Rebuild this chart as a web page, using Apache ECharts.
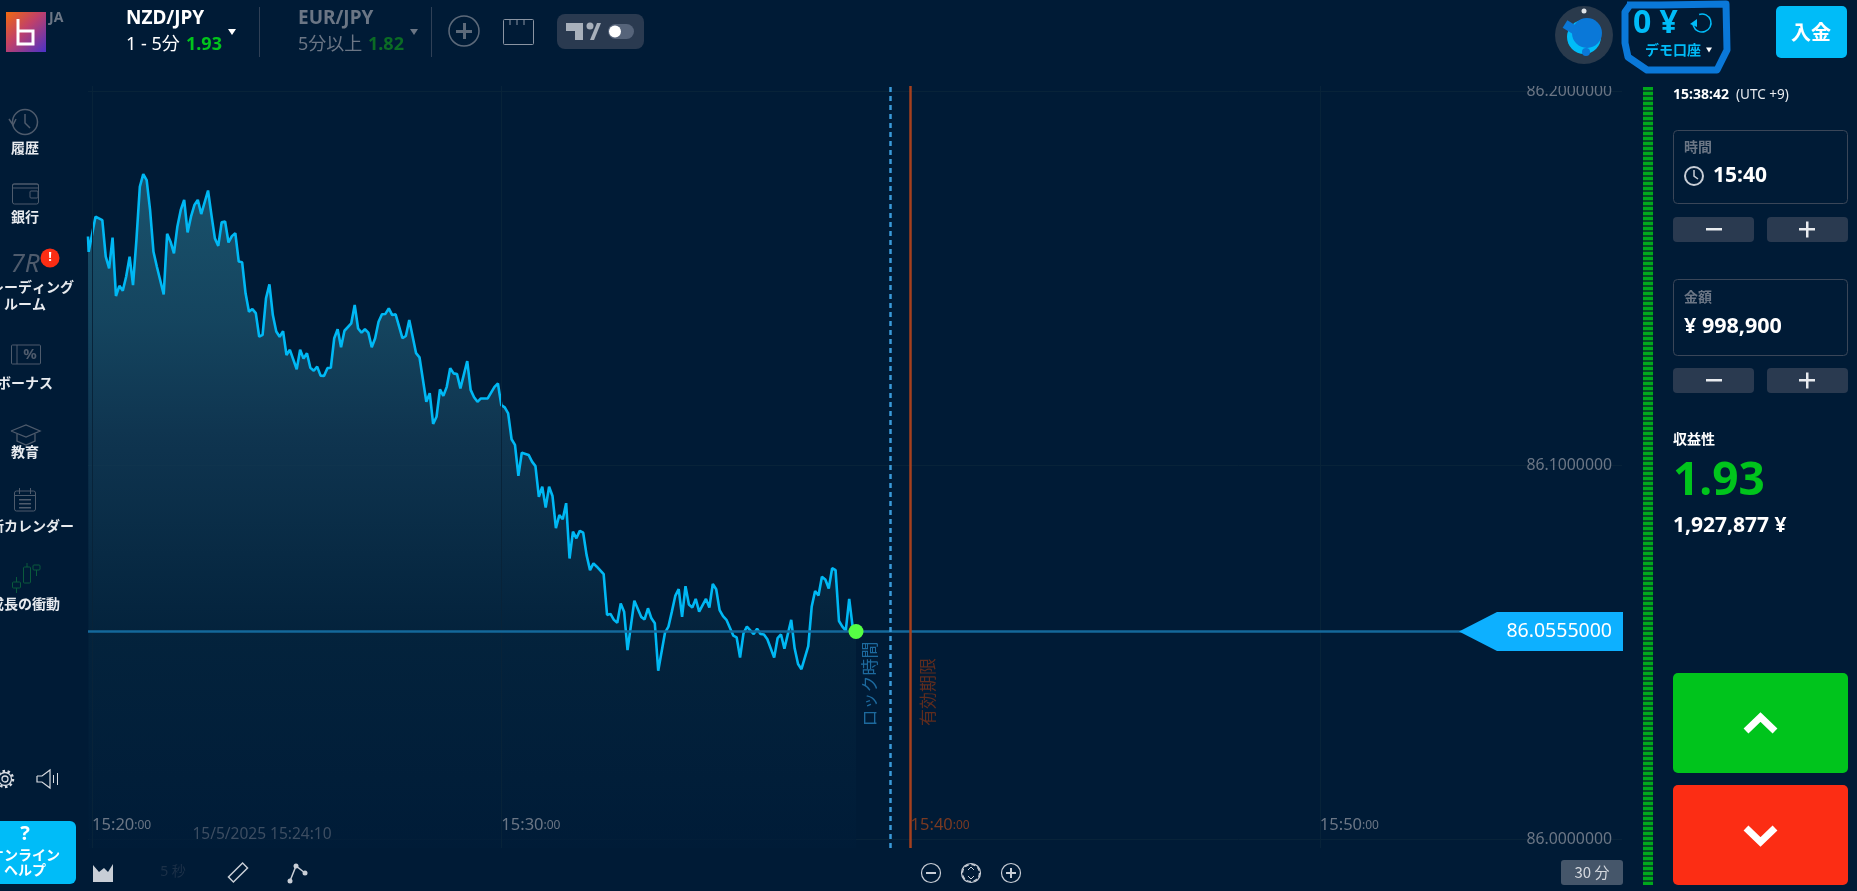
<!DOCTYPE html>
<html>
<head>
<meta charset="utf-8">
<title>NZD/JPY</title>
<style>
html, body { margin: 0; padding: 0; background: #001b36; overflow: hidden; }
#chart { width: 1857px; height: 891px; }
</style>
<script src="https://cdn.jsdelivr.net/npm/echarts@6/dist/echarts.min.js"></script>
</head>
<body>
<div id="chart"></div>
<script>
// seconds after 15:20:00
var priceTimes = [
    -6, -5, 5, 15, 20, 25, 30, 35, 40, 45, 50, 55, 60, 65, 70, 75, 80, 85, 90, 95,
    105, 110, 115, 120, 125, 130, 135, 140, 145, 150, 155, 160, 170, 175, 180, 185, 190, 195, 200, 205,
    210, 215, 220, 225, 230, 235, 240, 245, 250, 255, 260, 265, 270, 275, 280, 285, 290, 300, 305, 310,
    315, 320, 325, 330, 335, 340, 345, 350, 355, 360, 365, 370, 380, 385, 390, 395, 400, 405, 410, 415,
    420, 425, 430, 435, 440, 445, 455, 460, 465, 475, 480, 490, 495, 500, 505, 510, 515, 520, 525, 530,
    535, 540, 550, 555, 560, 565, 570, 580, 590, 595, 600, 605, 610, 615, 620, 625, 630, 640, 645, 650,
    655, 660, 665, 670, 675, 680, 685, 690, 695, 700, 705, 710, 715, 720, 725, 730, 735, 740, 750, 755,
    760, 765, 770, 775, 780, 785, 795, 805, 810, 815, 820, 825, 830, 840, 845, 850, 855, 860, 865, 870,
    875, 880, 885, 890, 900, 905, 910, 915, 920, 925, 930, 940, 945, 950, 955, 960, 970, 975, 980, 985,
    990, 1000, 1005, 1010, 1015, 1025, 1030, 1035, 1040, 1050, 1055, 1060, 1065, 1070, 1075, 1080, 1085, 1090, 1095, 1100,
    1105, 1110, 1115, 1120
];
var prices = [
    86.1611, 86.1570, 86.1664, 86.1655, 86.1557, 86.1526, 86.1608, 86.1452, 86.1479, 86.1466, 86.1504, 86.1557, 86.1481, 86.1602, 86.1744, 86.1778, 86.1762, 86.1682, 86.1570, 86.1530,
    86.1456, 86.1618, 86.1597, 86.1566, 86.1637, 86.1682, 86.1709, 86.1622, 86.1664, 86.1695, 86.1709, 86.1671, 86.1734, 86.1668, 86.1606, 86.1586, 86.1649, 86.1651, 86.1595, 86.1612,
    86.1620, 86.1544, 86.1542, 86.1459, 86.1410, 86.1417, 86.1406, 86.1343, 86.1348, 86.1446, 86.1483, 86.1401, 86.1357, 86.1343, 86.1358, 86.1294, 86.1308, 86.1256, 86.1308, 86.1285,
    86.1299, 86.1260, 86.1252, 86.1263, 86.1239, 86.1238, 86.1259, 86.1260, 86.1339, 86.1363, 86.1315, 86.1359, 86.1379, 86.1428, 86.1365, 86.1354, 86.1363, 86.1354, 86.1315, 86.1339,
    86.1383, 86.1403, 86.1404, 86.1419, 86.1401, 86.1403, 86.1339, 86.1345, 86.1388, 86.1299, 86.1288, 86.1169, 86.1192, 86.1110, 86.1129, 86.1202, 86.1185, 86.1209, 86.1259, 86.1245,
    86.1243, 86.1205, 86.1278, 86.1201, 86.1181, 86.1169, 86.1178, 86.1178, 86.1209, 86.1218, 86.1160, 86.1154, 86.1138, 86.1069, 86.1054, 86.0971, 86.1033, 86.1027, 86.1009, 86.0997,
    86.0915, 86.0942, 86.0886, 86.0942, 86.0917, 86.0831, 86.0866, 86.0855, 86.0898, 86.0750, 86.0822, 86.0804, 86.0824, 86.0819, 86.0759, 86.0719, 86.0737, 86.0728, 86.0708, 86.0599,
    86.0602, 86.0586, 86.0578, 86.0630, 86.0608, 86.0505, 86.0637, 86.0594, 86.0587, 86.0617, 86.0590, 86.0577, 86.0450, 86.0552, 86.0568, 86.0608, 86.0650, 86.0668, 86.0594, 86.0676,
    86.0627, 86.0619, 86.0642, 86.0608, 86.0642, 86.0619, 86.0682, 86.0668, 86.0612, 86.0596, 86.0586, 86.0544, 86.0539, 86.0485, 86.0550, 86.0568, 86.0548, 86.0562, 86.0548, 86.0547,
    86.0534, 86.0485, 86.0537, 86.0547, 86.0509, 86.0586, 86.0510, 86.0468, 86.0454, 86.0516, 86.0621, 86.0663, 86.0651, 86.0701, 86.0694, 86.0670, 86.0724, 86.0719, 86.0583, 86.0568,
    86.0557, 86.0642, 86.0568, 86.0555
];
var timeTicks = [0, 600, 1200, 1800];
var timeLabels = ['15:20', '15:30', '15:40', '15:50'];
var priceTicks = [86, 86.1, 86.2];
var currentPrice = 86.0555;
var currentTime = 1120;
var lockTime = 1170;
var expiryTime = 1200;

var BG = '#001b36';
var FONT = '"Noto Sans", "Noto Sans CJK JP", sans-serif';
var JP = '"Noto Sans CJK JP", sans-serif';
var BLUE = '#00bcf8';
var GREEN = '#00c41c';
var GREY = '#6b7685';
var PANEL = '#2a3a50';

var chartDom = document.getElementById('chart');
var myChart = echarts.init(chartDom);

// ---- page chrome helpers
var els = [];
function rect(x, y, w, h, fill, r, stroke) {
    els.push({
        type: 'rect', z: 10, silent: true,
        shape: { x: x, y: y, width: w, height: h, r: r || 0 },
        style: { fill: fill, stroke: stroke || null, lineWidth: 1 }
    });
}
function text(x, y, str, font, color, align) {
    els.push({
        type: 'text', z: 11, silent: true,
        style: { x: x, y: y, text: str, font: font, fill: color, textAlign: align || 'left', textVerticalAlign: 'middle' }
    });
}
function vtext(x, y, str, font, color) {
    els.push({
        type: 'text', z: 4, silent: true, x: x, y: y, rotation: Math.PI / 2,
        style: { x: 0, y: 0, text: str, font: font, fill: color, textAlign: 'center', textVerticalAlign: 'middle' }
    });
}
function circle(x, y, r, fill, stroke, lw, dash) {
    els.push({
        type: 'circle', z: 11, silent: true,
        shape: { cx: x, cy: y, r: r },
        style: { fill: fill || 'none', stroke: stroke || null, lineWidth: lw || 1, lineDash: dash || null }
    });
}
function poly(points, stroke, lw, join) {
    els.push({
        type: 'polyline', z: 11, silent: true,
        shape: { points: points },
        style: { fill: 'none', stroke: stroke, lineWidth: lw || 1, lineJoin: join || 'miter' }
    });
}
function tri(x, y, w, h, color) {
    els.push({
        type: 'polygon', z: 11, silent: true,
        shape: { points: [[x - w / 2, y - h / 2], [x + w / 2, y - h / 2], [x, y + h / 2]] },
        style: { fill: color }
    });
}

// header strip hides the top of the 86.2 label
rect(0, 0, 1857, 86, BG);

// logo
els.push({
    type: 'rect', z: 11, silent: true,
    shape: { x: 6, y: 12, width: 40, height: 40 },
    style: {
        fill: new echarts.graphic.LinearGradient(0, 0, 1, 1, [
            { offset: 0, color: '#f06a10' }, { offset: 0.45, color: '#c0406a' }, { offset: 1, color: '#4a32c8' }
        ])
    }
});
poly([[18, 19], [18, 44], [33, 44], [33, 31], [18, 31]], '#ffffff', 3);
text(49, 18, 'JA', 'bold 14px ' + FONT, GREY);

// instruments
text(126, 19, 'NZD/JPY', 'bold 19px ' + FONT, '#ffffff');
text(126, 45, '1 - 5分', '18px ' + FONT, '#ffffff');
text(186, 45, '1.93', 'bold 18px ' + FONT, GREEN);
tri(232, 32, 8, 6, '#ffffff');
rect(259, 7, 1, 50, '#2f4056');
text(298, 19, 'EUR/JPY', 'bold 19px ' + FONT, GREY);
text(298, 45, '5分以上', '18px ' + FONT, GREY);
text(368, 45, '1.82', 'bold 18px ' + FONT, '#0b6b25');
tri(414, 32, 8, 6, GREY);
rect(431, 7, 1, 50, '#2f4056');
circle(464, 31, 15, null, '#5d6a7a', 1.5);
rect(456, 30, 16, 3, '#5d6a7a');
rect(463, 23, 3, 16, '#5d6a7a');
rect(503.5, 19.5, 30, 25, 'none', 1, '#8a94a2');
poly([[510, 20], [510, 25]], '#8a94a2', 1);
poly([[517, 20], [517, 25]], '#8a94a2', 1);
poly([[524, 20], [524, 25]], '#8a94a2', 1);
rect(557, 14, 87, 35, PANEL, 8);
els.push({
    type: 'polygon', z: 11, silent: true,
    shape: { points: [[566, 23], [583, 23], [583, 40], [575, 40], [575, 31], [566, 31]] },
    style: { fill: '#a8b0bb' }
});
circle(590, 26, 3.5, '#a8b0bb');
els.push({
    type: 'polygon', z: 11, silent: true,
    shape: { points: [[590, 40], [597, 23], [601, 23], [594, 40]] },
    style: { fill: '#a8b0bb' }
});
rect(608, 24, 26, 15, '#56647a', 7.5);
circle(615, 31.5, 6, '#ffffff');

// account
circle(1584, 35, 29, '#2a3a4c');
circle(1584, 11, 2.5, '#e0e4e8');
circle(1584, 37, 17, BLUE);
circle(1587, 33, 15, '#0a78d8');
poly([[1565, 24], [1578, 32]], '#0a78d8', 9, 'round');
circle(1586, 52, 4, '#0a78d8');
poly([[1627, 5], [1660, 5], [1726, 4], [1727, 50], [1717, 70], [1647, 70], [1628, 57], [1625, 43], [1625, 12], [1630, 5]], '#0a78d8', 7, 'round');
text(1633, 24, '0 ¥', 'bold 32px ' + FONT, BLUE);
els.push({
    type: 'arc', z: 11, silent: true,
    shape: { cx: 1702, cy: 23, r: 9, startAngle: -1.9, endAngle: 3.1 },
    style: { fill: 'none', stroke: BLUE, lineWidth: 1.5 }
});
els.push({
    type: 'polygon', z: 11, silent: true,
    shape: { points: [[1690, 24], [1697, 19], [1697, 27]] },
    style: { fill: BLUE }
});
text(1673, 50, 'デモ口座', 'bold 14px ' + JP, BLUE, 'center');
tri(1709, 50, 6, 5, '#ffffff');
rect(1776, 6, 71, 52, BLUE, 5);
text(1811, 32, '入金', 'bold 20px ' + JP, '#ffffff', 'center');

// side menu
var menuLabels = ['履歴', '銀行', 'トレーディング', 'ルーム', 'ボーナス', '教育', '最新カレンダー', '成長の衝動'];
var menuY = [148, 217, 287, 304, 383, 452, 526, 604];
for (var m = 0; m < menuLabels.length; m++) {
    text(25, menuY[m], menuLabels[m], 'bold 14px ' + JP, '#e8ebef', 'center');
}
var ICON = '#4e5b6c';
circle(25, 122, 12.5, null, ICON, 1.5);
poly([[25, 114], [25, 123], [30, 128]], ICON, 1.5);
poly([[9, 119], [13, 125], [16, 119]], ICON, 1.5);
rect(12.5, 184, 26, 20, 'none', 2, ICON);
rect(12.5, 184, 26, 4, 'none', 1, ICON);
rect(30, 191, 8, 7, 'none', 1, ICON);
text(25, 265, '7R', 'italic 26px ' + FONT, ICON, 'center');
circle(50, 258, 9.5, '#fc2d14');
text(50, 257, '!', 'bold 13px ' + FONT, '#ffffff', 'center');
rect(11.5, 345, 29, 19, 'none', 1, ICON);
poly([[17, 345], [17, 364]], ICON, 1);
text(30, 355, '%', 'bold 15px ' + FONT, ICON, 'center');
poly([[11, 431], [26, 425], [40, 431], [26, 437], [11, 431]], ICON, 1.3);
poly([[17, 434], [17, 441], [26, 445], [35, 441], [35, 434]], ICON, 1.3);
rect(14.5, 491, 21, 20, 'none', 2, ICON);
rect(14.5, 495, 21, 1, ICON);
rect(19, 488, 1, 6, ICON);
rect(30, 488, 1, 6, ICON);
for (var cy = 499; cy < 509; cy += 4) {
    rect(19, cy, 12, 1.5, ICON);
}
var CANDLE = '#0a5a3c';
rect(12.5, 582, 8, 6, 'none', 1, CANDLE);
rect(23.5, 567, 7, 16, 'none', 1, CANDLE);
rect(33, 565, 7, 5, 'none', 1, CANDLE);
rect(16, 577, 1, 5, CANDLE);
rect(16, 588, 1, 5, CANDLE);
rect(26.5, 563, 1, 4, CANDLE);
rect(36, 570, 1, 6, CANDLE);

// settings + sound
circle(5, 779, 3, null, '#d8dce2', 1.3);
circle(5, 779, 6.5, null, '#d8dce2', 1.3);
circle(5, 779, 8, null, '#d8dce2', 2.5, [2.5, 2.5]);
poly([[37, 776], [42, 776], [50, 770], [50, 788], [42, 782], [37, 782], [37, 776]], '#d8dce2', 1.2);
rect(53, 775, 1, 8, '#d8dce2');
rect(57, 773, 1, 12, '#d8dce2');

// help
rect(-20, 821, 96, 63, BLUE, 6);
text(25, 834, '?', 'bold 20px ' + FONT, '#ffffff', 'center');
text(25, 855, 'オンライン', 'bold 14px ' + JP, '#ffffff', 'center');
text(25, 870, 'ヘルプ', 'bold 14px ' + JP, '#ffffff', 'center');

// bottom tools
els.push({
    type: 'polygon', z: 11, silent: true,
    shape: { points: [[93, 865], [99, 872], [104, 868], [108, 872], [113, 864], [113, 882], [93, 882]] },
    style: { fill: '#c8ced6' }
});
text(173, 872, '5 秒', '14px ' + FONT, '#1c3148', 'center');
els.push({
    type: 'rect', z: 11, silent: true, x: 238, y: 872.5, rotation: Math.PI / 4,
    shape: { x: -10, y: -3.5, width: 20, height: 7 },
    style: { fill: 'none', stroke: '#c8ced6', lineWidth: 1.5 }
});
poly([[290, 881], [296, 866], [305, 873]], '#c8ced6', 1.5);
circle(290, 881, 2.5, '#c8ced6');
circle(296, 866, 2.5, '#c8ced6');
circle(305, 873, 2.5, '#c8ced6');
text(262, 835, '15/5/2025 15:24:10', '15.5px ' + FONT, '#3d4e62', 'center');
var zoomX = [931, 971, 1011];
for (var z = 0; z < zoomX.length; z++) {
    circle(zoomX[z], 873, 9.5, null, '#c8ced6', 1.2);
}
rect(926, 872, 10, 2, '#c8ced6');
rect(1006, 872, 10, 2, '#c8ced6');
rect(1010, 868, 2, 10, '#c8ced6');
rect(962, 864, 18, 18, BG);
circle(971, 873, 8.5, null, '#c8ced6', 1.3, [4, 2.7]);
poly([[968, 870], [971, 867], [974, 870]], '#c8ced6', 1);
poly([[968, 876], [971, 879], [974, 876]], '#c8ced6', 1);

rect(1561, 860, 62, 25, '#45566a', 3);
text(1592, 872.5, '30 分', '15px ' + JP, '#d4d8de', 'center');

// sentiment stripe
rect(1643, 87, 10, 798, '#064a26');
for (var s = 87; s < 885; s += 5) {
    rect(1643, s, 10, 3, '#00a81c');
}

// ticket panel
text(1673, 95, '15:38:42', 'bold 14px ' + FONT, '#ffffff');
text(1736, 95, '(UTC +9)', '13.5px ' + FONT, '#e8ebef');
rect(1673.5, 130.5, 174, 73, 'none', 4, '#3a4658');
text(1684, 147, '時間', 'bold 14px ' + JP, GREY);
circle(1694, 176, 9, null, '#c8ced6', 2);
poly([[1694, 170], [1694, 176], [1698, 179]], '#c8ced6', 1.5);
text(1713, 176, '15:40', 'bold 21px ' + FONT, '#ffffff');
rect(1673.5, 279.5, 174, 76, 'none', 4, '#3a4658');
text(1684, 297, '金額', 'bold 14px ' + JP, GREY);
text(1684, 327, '¥ 998,900', 'bold 21.5px ' + FONT, '#ffffff');
var stepY = [217, 368];
for (var k = 0; k < stepY.length; k++) {
    rect(1673, stepY[k], 81, 25, PANEL, 4);
    rect(1767, stepY[k], 81, 25, PANEL, 4);
    rect(1706, stepY[k] + 11, 16, 2.5, '#e8ebef');
    rect(1799, stepY[k] + 11, 16, 2.5, '#e8ebef');
    rect(1806, stepY[k] + 4.5, 2.5, 16, '#e8ebef');
}
text(1673, 439, '収益性', 'bold 14px ' + JP, '#ffffff');
text(1673, 482, '1.93', 'bold 46px ' + FONT, GREEN);
text(1673, 526, '1,927,877 ¥', 'bold 21px ' + FONT, '#ffffff');
rect(1673, 673, 175, 100, GREEN, 5);
rect(1673, 785, 175, 100, '#fc2d14', 5);
poly([[1746, 731], [1760.5, 717], [1775, 731]], '#ffffff', 7);
poly([[1746, 828], [1760.5, 842], [1775, 828]], '#ffffff', 7);

// markers that hang off the time axis
vtext(870, 684, 'ロック時間', '17px ' + JP, '#1d6a9e');
vtext(928, 692, '有効期限', '17px ' + JP, '#5e2c1e');

// ---- chart
function renderPriceTag(params, api) {
    var p = api.coord([api.value(0), api.value(1)]);
    var right = p[0] + 1;
    return {
        type: 'group',
        children: [{
            type: 'polygon',
            shape: { points: [[right - 164, p[1]], [right - 126, p[1] - 19.5], [right, p[1] - 19.5], [right, p[1] + 19.5], [right - 126, p[1] + 19.5]] },
            style: { fill: '#0db0ff' }
        }, {
            type: 'text',
            style: { x: right - 11, y: p[1], text: api.value(1).toFixed(7), font: '19.5px ' + FONT, fill: '#ffffff', textAlign: 'right', textVerticalAlign: 'middle' }
        }]
    };
}

var lineData = priceTimes.map(function (t, i) { return [t, prices[i]]; });

var option = {
    backgroundColor: BG,
    animation: false,
    grid: { left: 88, right: 235, top: 86, bottom: 43 },
    xAxis: {
        type: 'value',
        min: -6,
        max: 2243,
        z: 4,
        axisLine: { show: false },
        axisTick: { show: false, customValues: timeTicks },
        splitLine: { show: true, lineStyle: { color: '#082339', width: 1 } },
        axisLabel: {
            customValues: timeTicks,
            inside: true,
            margin: 14,
            align: 'left',
            hideOverlap: false,
            formatter: function (val) {
                var label = timeLabels[timeTicks.indexOf(val)];
                if (val === expiryTime) {
                    return '{ra|' + label + '}{rb|:00}';
                }
                return '{a|' + label + '}{b|:00}';
            },
            rich: {
                a: { fontFamily: FONT, fontSize: 16.5, color: '#6b7685' },
                b: { fontFamily: FONT, fontSize: 12, color: '#6b7685' },
                ra: { fontFamily: FONT, fontSize: 16.5, color: '#7a3a22' },
                rb: { fontFamily: FONT, fontSize: 12, color: '#7a3a22' }
            }
        }
    },
    yAxis: {
        type: 'value',
        position: 'right',
        min: 85.9976,
        max: 86.20134,
        axisLine: { show: false },
        axisTick: { show: false, customValues: priceTicks },
        splitLine: { show: true, lineStyle: { color: '#082339', width: 1 } },
        axisLabel: {
            customValues: priceTicks,
            inside: true,
            margin: 10,
            align: 'right',
            fontFamily: FONT,
            fontSize: 15.8,
            color: '#6b7685',
            formatter: function (val) { return val.toFixed(7); }
        }
    },
    series: [{
        type: 'line',
        name: 'NZD/JPY',
        data: lineData,
        symbol: 'none',
        smooth: false,
        z: 3,
        lineStyle: { color: '#00b8f4', width: 2.6 },
        areaStyle: {
            origin: 'start',
            color: new echarts.graphic.LinearGradient(0, 0, 0, 1, [
                { offset: 0, color: '#256a84' },
                { offset: 0.22, color: '#1d5670' },
                { offset: 0.39, color: '#153f5a' },
                { offset: 0.5, color: '#0f3650' },
                { offset: 0.68, color: '#05263f' },
                { offset: 1, color: '#001c38' }
            ])
        },
        markLine: {
            silent: true,
            symbol: 'none',
            precision: 7,
            label: { show: false },
            data: [
                { yAxis: currentPrice, lineStyle: { color: '#14689a', width: 2.5, type: 'solid' } },
                { xAxis: lockTime, lineStyle: { color: '#3a9ad9', width: 2.5, type: [5, 4] } },
                { xAxis: expiryTime, lineStyle: { color: '#a5401e', width: 2.5, type: 'solid' } }
            ]
        }
    }, {
        type: 'scatter',
        name: 'now',
        data: [[currentTime, currentPrice]],
        symbolSize: 15,
        z: 5,
        itemStyle: { color: '#55ff44', opacity: 1 }
    }, {
        type: 'custom',
        name: 'price tag',
        renderItem: renderPriceTag,
        data: [[2243, currentPrice]],
        z: 5,
        silent: true
    }],
    graphic: { elements: els }
};

myChart.setOption(option);
</script>
</body>
</html>
